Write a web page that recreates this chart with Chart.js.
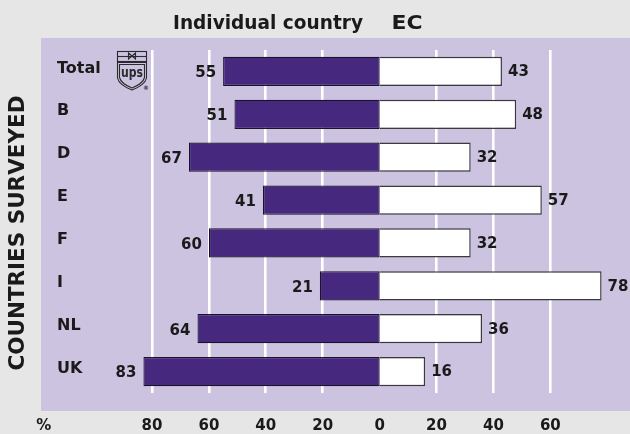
<!DOCTYPE html>
<html>
<head>
<meta charset="utf-8">
<script src="https://cdn.jsdelivr.net/npm/chart.js@4/dist/chart.umd.min.js"></script>
<style>
  html, body { margin: 0; padding: 0; background: #e6e6e6; }
  #wrap { width: 630px; height: 434px; }
</style>
</head>
<body>
<div id="wrap"><canvas id="grafico"></canvas></div>
<script>
// paises encuestados y porcentajes de cada respuesta
const paises = ['Total', 'B', 'D', 'E', 'F', 'I', 'NL', 'UK'];
const individual = [55, 51, 67, 41, 60, 21, 64, 83];
const ec = [43, 48, 32, 57, 32, 78, 36, 16];
const ticksX = [-118, -80, -60, -40, -20, 0, 20, 40, 60];

const morado = '#46297f';
const lila = '#cbc3e0';
const fuente = '"DejaVu Sans", sans-serif';

// escribe un texto ajustado a un ancho dado
function textoAjustado(ctx, texto, x, y, ancho, font) {
    ctx.save();
    ctx.font = font;
    let w = ctx.measureText(texto).width;
    ctx.translate(x, y);
    ctx.scale(ancho / w, 1);
    ctx.textAlign = 'center';
    ctx.fillText(texto, 0, 0);
    ctx.restore();
}

// logo de ups junto a la fila Total
function dibujarLogo(ctx, x, y) {
    ctx.save();
    ctx.strokeStyle = '#2b2b2b';
    ctx.fillStyle = '#2b2b2b';
    ctx.lineWidth = 1.1;
    // paquete
    ctx.strokeRect(x + 0.5, y + 0.5, 29, 10);
    ctx.beginPath();
    ctx.moveTo(x + 1, y + 5.5);
    ctx.lineTo(x + 29, y + 5.5);
    ctx.stroke();
    // lazo
    ctx.beginPath();
    ctx.moveTo(x + 15, y + 5);
    ctx.lineTo(x + 11.5, y + 2);
    ctx.lineTo(x + 11.5, y + 8);
    ctx.closePath();
    ctx.moveTo(x + 15, y + 5);
    ctx.lineTo(x + 18.5, y + 2);
    ctx.lineTo(x + 18.5, y + 8);
    ctx.closePath();
    ctx.stroke();
    // escudo
    ctx.beginPath();
    ctx.moveTo(x + 0.5, y + 11.5);
    ctx.lineTo(x + 29.5, y + 11.5);
    ctx.lineTo(x + 29.5, y + 27);
    ctx.quadraticCurveTo(x + 28, y + 34, x + 15, y + 39);
    ctx.quadraticCurveTo(x + 2, y + 34, x + 0.5, y + 27);
    ctx.closePath();
    ctx.stroke();
    ctx.beginPath();
    ctx.moveTo(x + 2.5, y + 13.5);
    ctx.lineTo(x + 27.5, y + 13.5);
    ctx.lineTo(x + 27.5, y + 26.5);
    ctx.quadraticCurveTo(x + 26, y + 32.5, x + 15, y + 37);
    ctx.quadraticCurveTo(x + 4, y + 32.5, x + 2.5, y + 26.5);
    ctx.closePath();
    ctx.stroke();
    ctx.textBaseline = 'alphabetic';
    textoAjustado(ctx, 'ups', x + 15, y + 26, 22, 'bold 14px ' + fuente);
    ctx.font = 'bold 6px ' + fuente;
    ctx.textAlign = 'center';
    ctx.fillText('®', x + 29, y + 39);
    ctx.restore();
}

const fondo = {
    id: 'fondo',
    beforeDraw(chart) {
        const ctx = chart.ctx;
        const a = chart.chartArea;
        ctx.save();
        ctx.fillStyle = '#e6e6e6';
        ctx.fillRect(0, 0, chart.width, chart.height);
        ctx.fillStyle = lila;
        ctx.fillRect(a.left, a.top - 12, a.right - a.left, a.bottom - a.top + 30);
        ctx.restore();
    }
};

const textos = {
    id: 'textos',
    afterDatasetsDraw(chart) {
        const ctx = chart.ctx;
        const a = chart.chartArea;
        ctx.save();
        ctx.fillStyle = '#1a1a1a';
        ctx.textBaseline = 'middle';
        ctx.font = 'bold 15px ' + fuente;

        // valores al final de cada barra
        let m0 = chart.getDatasetMeta(0);
        let m1 = chart.getDatasetMeta(1);
        for (let i = 0; i < paises.length; i++) {
            let b0 = m0.data[i];
            ctx.textAlign = 'right';
            ctx.fillText(individual[i], b0.x - 7, b0.y + 2);
            let b1 = m1.data[i];
            ctx.textAlign = 'left';
            ctx.fillText(ec[i], b1.x + 6, b1.y + 1);
        }

        // titulos
        ctx.textBaseline = 'alphabetic';
        textoAjustado(ctx, 'Individual country', 268, 29, 190, 'bold 19px ' + fuente);
        textoAjustado(ctx, 'EC', 407, 29, 31, 'bold 19px ' + fuente);

        ctx.save();
        ctx.translate(24, 233);
        ctx.rotate(-Math.PI / 2);
        textoAjustado(ctx, 'COUNTRIES SURVEYED', 0, 0, 275, 'bold 21px ' + fuente);
        ctx.restore();

        dibujarLogo(ctx, a.left + 76, a.top + 1);
        ctx.restore();
    }
};

// sin linea de rejilla en 0 ni en la marca del %
const sinLinea = (c) => c.tick && (c.tick.value === 0 || c.tick.value === -118);

new Chart(document.getElementById('grafico'), {
    type: 'bar',
    data: {
        labels: paises,
        datasets: [{
            label: 'Individual country',
            data: individual.map(v => -v),
            backgroundColor: morado,
            borderColor: '#1b1228',
            borderWidth: 1.2,
            borderSkipped: false,
            inflateAmount: 0
        }, {
            label: 'EC',
            data: ec,
            backgroundColor: '#ffffff',
            borderColor: '#3a3a3a',
            borderWidth: { top: 1.4, bottom: 1.4, left: 0, right: 1.4 },
            borderSkipped: false,
            inflateAmount: 0
        }]
    },
    options: {
        indexAxis: 'y',
        responsive: true,
        maintainAspectRatio: false,
        animation: false,
        events: [],
        datasets: {
            bar: { barPercentage: 0.68, categoryPercentage: 1, grouped: false }
        },
        layout: { padding: { left: 9, right: 0, top: 50, bottom: -25 } },
        plugins: {
            legend: { display: false },
            tooltip: { enabled: false }
        },
        scales: {
            x: {
                min: -119,
                max: 88,
                afterBuildTicks: (scale) => {
                    scale.ticks = ticksX.map(v => ({ value: v }));
                },
                border: { display: false },
                grid: {
                    drawTicks: false,
                    lineWidth: (c) => sinLinea(c) ? 0 : 2.6,
                    color: (c) => sinLinea(c) ? 'rgba(0,0,0,0)' : '#ffffff'
                },
                ticks: {
                    autoSkip: false,
                    maxRotation: 0,
                    padding: 24,
                    color: '#1a1a1a',
                    font: { family: fuente, size: 15, weight: 'bold' },
                    callback: (v) => v === -118 ? '%' : Math.abs(v)
                }
            },
            y: {
                border: { display: false },
                grid: { display: false, drawTicks: false },
                ticks: {
                    mirror: true,
                    padding: 16,
                    labelOffset: -3,
                    color: '#1a1a1a',
                    font: { family: fuente, size: 16, weight: 'bold' }
                }
            }
        }
    },
    plugins: [fondo, textos]
});
</script>
</body>
</html>
